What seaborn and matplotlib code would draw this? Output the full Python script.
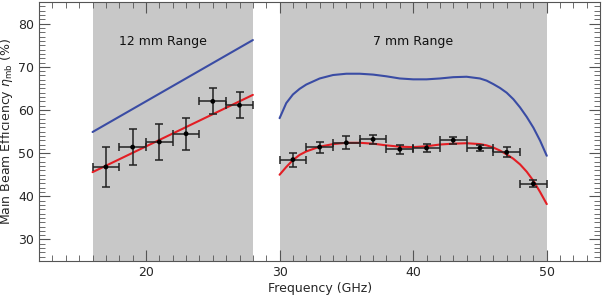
import matplotlib
matplotlib.use("Agg")
import matplotlib.pyplot as plt
import seaborn as sns
import numpy as np
import pandas as pd
from matplotlib.ticker import MultipleLocator

# measured points, 12 mm band
f12 = [17, 19, 21, 23, 25, 27]
eff12 = [46.8, 51.4, 52.6, 54.5, 62.0, 61.1]
err12 = [4.7, 4.2, 4.1, 3.7, 3.0, 3.0]
ferr12 = [1, 1, 1, 1, 1, 1]

# measured points, 7 mm band
f7 = [31, 33, 35, 37, 39, 41, 43, 45, 47, 49]
eff7 = [48.5, 51.4, 52.4, 53.2, 50.9, 51.2, 53.0, 51.2, 50.2, 42.9]
err7 = [1.6, 1.3, 1.5, 1.0, 1.0, 1.0, 0.8, 0.8, 1.2, 0.8]
ferr7 = [1, 1, 1, 1, 1, 1, 1, 1, 1, 1]

# fitted (red) and predicted (blue) curves
fit12_f = [16, 28]
fit12_red = [45.6, 63.5]
fit12_blue = [54.9, 76.2]

fit7_f = [30, 30.5, 31, 31.5, 32, 33, 34, 35, 36, 37, 38, 39, 40, 41, 42, 43, 44,
          45, 45.5, 46, 46.5, 47, 47.5, 48, 48.5, 49, 49.5, 50]
fit7_red = [45.0, 46.8, 48.4, 49.6, 50.4, 51.5, 52.1, 52.4, 52.4, 52.2, 51.8, 51.5, 51.4,
            51.6, 52.0, 52.2, 52.3, 52.1, 51.8, 51.3, 50.6, 49.7, 48.7, 47.4, 45.7, 43.6, 41.0, 38.2]
fit7_blue = [58.1, 61.6, 63.6, 64.9, 65.9, 67.3, 68.1, 68.4, 68.4, 68.2, 67.8, 67.3, 67.1,
             67.1, 67.3, 67.6, 67.7, 67.3, 66.8, 66.0, 65.1, 64.0, 62.5, 60.6, 58.4, 55.9, 52.9, 49.4]

bands = [(16, 28), (30, 50)]
band_labels = ["12 mm Range", "7 mm Range"]
label_x = [21.3, 40.0]

sns.set_style("ticks")
plt.rcParams['font.family'] = ['DejaVu Sans']

fig = plt.figure(figsize=(6.02, 2.96), dpi=100)
ax = fig.add_axes([0.065, 0.118, 0.932, 0.875])

# shaded bands
for (a, b), lab, lx in zip(bands, band_labels, label_x):
    ax.axvspan(a, b, color='#c8c8c8', lw=0, zorder=0)
    ax.text(lx, 75.8, lab, ha='center', va='center', fontsize=9, color='#111111')

red = '#e31e24'
blue = '#3a4ca4'

d12 = pd.DataFrame({'f': fit12_f, 'red': fit12_red, 'blue': fit12_blue})
d7 = pd.DataFrame({'f': fit7_f, 'red': fit7_red, 'blue': fit7_blue})
for d in (d12, d7):
    sns.lineplot(data=d, x='f', y='blue', color=blue, lw=1.5, ax=ax, zorder=3)
    sns.lineplot(data=d, x='f', y='red', color=red, lw=1.5, ax=ax, zorder=4)

# measurements with error bars
for f, e, ye, xe in ((f12, eff12, err12, ferr12), (f7, eff7, err7, ferr7)):
    ax.errorbar(f, e, yerr=ye, xerr=xe, fmt='none', ecolor='#222222',
                elinewidth=1.1, capsize=3, capthick=1.1, zorder=5)
    sns.scatterplot(x=f, y=e, color='black', s=12, edgecolor='none', ax=ax, zorder=6)

ax.set_xlim(12, 54)
ax.set_ylim(25, 85)
ax.xaxis.set_major_locator(MultipleLocator(10))
ax.xaxis.set_minor_locator(MultipleLocator(1))
ax.yaxis.set_major_locator(MultipleLocator(10))
ax.yaxis.set_minor_locator(MultipleLocator(1))
ax.set_yticks([30, 40, 50, 60, 70, 80])
ax.tick_params(which='both', direction='in', top=True, right=True,
               labeltop=False, labelright=False, color='#555555')
ax.tick_params(which='major', length=8, width=0.8, labelsize=9)
ax.tick_params(which='minor', length=4, width=0.6)
for s in ax.spines.values():
    s.set_color('#555555')
    s.set_linewidth(0.8)

ax.set_xlabel('Frequency (GHz)', fontsize=9, labelpad=2)
ax.set_ylabel(r'Main Beam Efficiency $\eta_{\rm mb}$ (%)', fontsize=9, labelpad=2)

fig.savefig('out.png', dpi=100)
